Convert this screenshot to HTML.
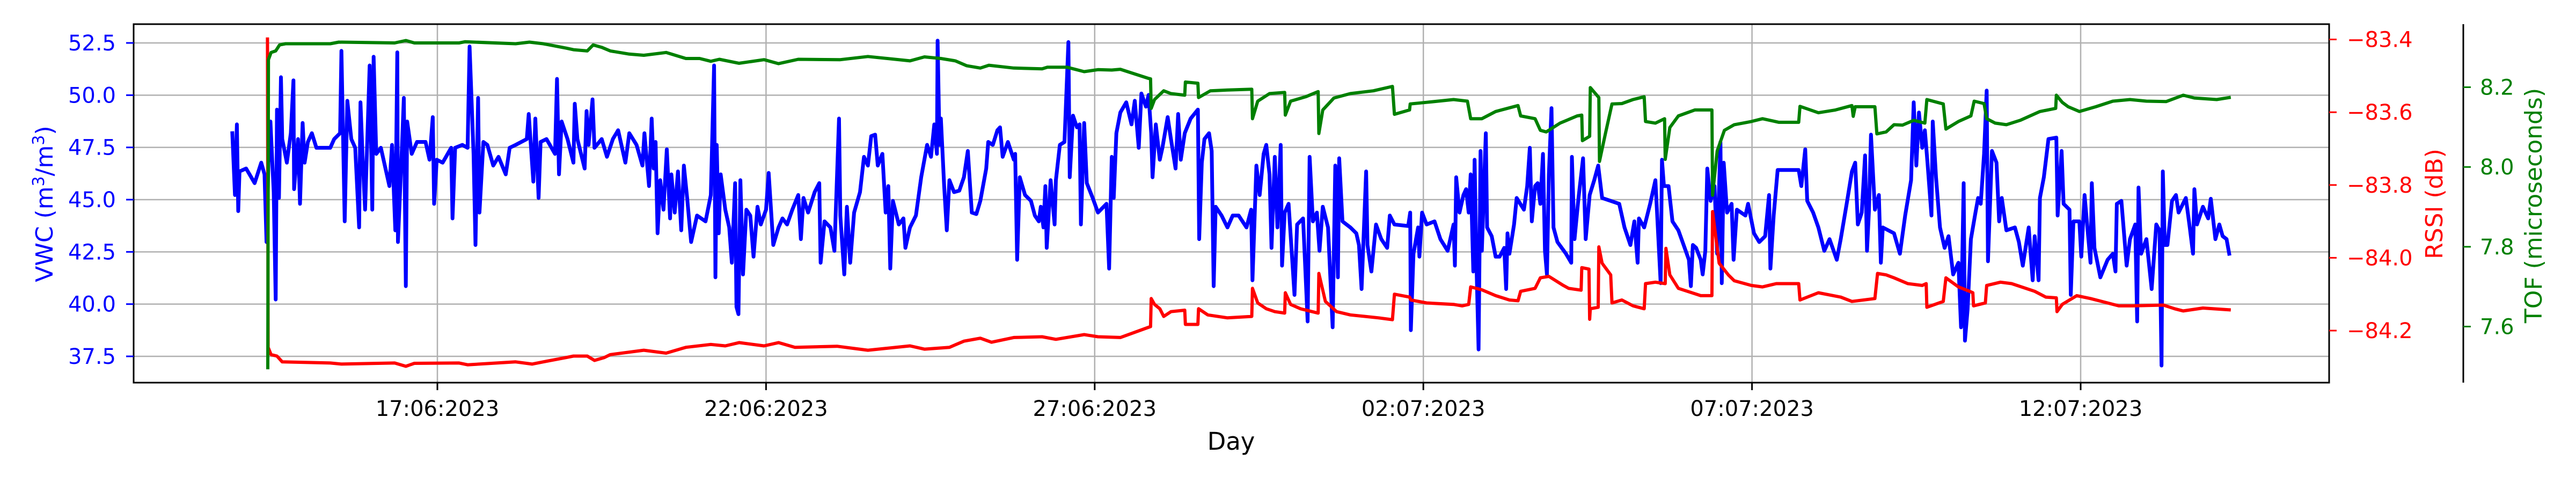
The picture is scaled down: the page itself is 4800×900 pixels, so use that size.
<!DOCTYPE html>
<html><head><meta charset="utf-8"><style>
html,body{margin:0;padding:0;background:#fff;}
svg{display:block;font-family:"DejaVu Sans","Liberation Sans",sans-serif;}
</style></head><body>
<svg id="chart" width="4800" height="900" viewBox="0 0 4800 900" xmlns="http://www.w3.org/2000/svg">
<rect x="0" y="0" width="4800" height="900" fill="#fff"/>
<g id="grid"></g>
<g id="series"></g>
<rect x="249" y="45" width="4091" height="668" fill="none" stroke="#000" stroke-width="3"/>
<line x1="4590" y1="45" x2="4590" y2="713" stroke="#000" stroke-width="3"/>
<g id="axes"></g>
<text x="2294" y="838" font-size="45" text-anchor="middle" fill="#000">Day</text>
<text transform="translate(98,380) rotate(-90)" font-size="44" text-anchor="middle" fill="#0000ff">VWC (m<tspan font-size="30" dy="-16">3</tspan><tspan dy="16">/m</tspan><tspan font-size="30" dy="-16">3</tspan><tspan dy="16">)</tspan></text>
<text transform="translate(4551,380) rotate(-90)" font-size="44" text-anchor="middle" fill="#ff0000">RSSI (dB)</text>
<text transform="translate(4736,383) rotate(-90)" font-size="44" text-anchor="middle" fill="#008000">TOF (microseconds)</text>
</svg>
<script>
// x ticks (days from 17 Jun 2023)
const xTickDays = [0,5,10,15,20,25];
const xTickLabels = ["17:06:2023","22:06:2023","27:06:2023","02:07:2023","07:07:2023","12:07:2023"];
const vwcTicks = [37.5,40.0,42.5,45.0,47.5,50.0,52.5];
const rssiTicks = [-84.2,-84.0,-83.8,-83.6,-83.4];
const tofTicks = [7.6,7.8,8.0,8.2];

const vwcDays = [-3.12,-3.08,-3.05,-3.03,-3.01,-2.91,-2.78,-2.68,-2.63,-2.60,-2.57,-2.54,-2.49,-2.46,-2.44,-2.41,-2.38,-2.36,-2.29,-2.23,-2.19,-2.18,-2.12,-2.09,-2.05,-2.02,-1.97,-1.91,-1.84,-1.63,-1.57,-1.48,-1.46,-1.41,-1.37,-1.31,-1.25,-1.19,-1.17,-1.14,-1.10,-1.03,-0.99,-0.97,-0.93,-0.86,-0.73,-0.69,-0.64,-0.61,-0.60,-0.54,-0.51,-0.48,-0.46,-0.39,-0.31,-0.18,-0.12,-0.07,-0.05,-0.01,0.08,0.21,0.23,0.27,0.38,0.46,0.49,0.55,0.58,0.62,0.64,0.70,0.76,0.85,0.93,1.04,1.10,1.19,1.36,1.39,1.46,1.49,1.54,1.57,1.66,1.79,1.82,1.85,1.89,1.98,2.07,
2.09,2.13,2.24,2.27,2.30,2.36,2.39,2.50,2.58,2.67,2.75,2.86,2.92,3.03,3.12,3.15,3.22,3.26,3.29,3.32,3.35,3.39,3.44,3.49,3.54,3.56,3.61,3.66,3.71,3.75,3.80,3.86,3.95,4.08,4.16,4.21,4.23,4.25,4.28,4.31,4.38,4.44,4.48,4.53,4.55,4.58,4.61,4.65,4.70,4.76,4.81,4.87,4.92,5.00,5.04,5.11,5.19,5.25,5.32,5.40,5.49,5.53,5.57,5.64,5.74,5.81,5.83,5.89,5.98,6.04,6.11,6.13,6.19,6.23,6.28,6.34,6.43,6.49,6.55,6.60,6.66,6.70,6.77,6.82,6.86,6.89,6.93,7.02,7.09,7.12,7.19,7.28,7.36,7.45,7.51,7.56,7.60,7.61,7.64,7.66,7.71,7.75,7.79,7.86,7.94,8.01,8.07,8.13,8.20,8.26,8.35,8.38,8.45,8.52,8.56,8.60,8.68,
8.77,8.79,8.82,8.86,8.94,9.03,9.09,9.15,9.18,9.22,9.25,9.27,9.33,9.39,9.41,9.47,9.54,9.60,9.62,9.67,9.73,9.77,9.79,9.84,9.88,9.97,10.05,10.18,10.22,10.26,10.29,10.33,10.39,10.48,10.56,10.61,10.67,10.71,10.78,10.82,10.86,10.88,10.93,10.99,11.03,11.11,11.16,11.23,11.27,11.31,11.37,11.46,11.57,11.59,11.63,11.67,11.74,11.78,11.81,11.84,11.93,12.02,12.10,12.19,12.31,12.38,12.40,12.46,12.51,12.57,12.61,12.66,12.69,12.74,12.78,12.83,12.85,12.89,12.95,13.04,13.08,13.17,13.24,13.27,13.32,13.38,13.42,13.47,13.55,13.62,13.66,13.70,13.72,13.77,13.89,13.98,14.02,14.06,14.13,14.15,14.21,14.28,14.36,14.45,14.49,14.56,14.77,14.80,14.81,14.85,14.92,14.94,14.98,15.05,15.17,15.26,15.37,
15.46,15.48,15.50,15.55,15.61,15.65,15.69,15.72,15.76,15.78,15.81,15.84,15.87,15.89,15.95,15.97,16.04,16.10,16.16,16.23,16.26,16.28,16.31,16.38,16.42,16.53,16.58,16.62,16.65,16.70,16.74,16.78,16.82,16.85,16.88,16.91,16.95,16.98,17.04,17.17,17.25,17.26,17.30,17.36,17.43,17.47,17.53,17.60,17.66,17.72,17.85,17.98,18.06,18.15,18.21,18.26,18.28,18.36,18.45,18.53,18.61,18.63,18.66,18.73,18.79,18.88,18.96,19.04,19.07,19.10,19.15,19.22,19.25,19.29,19.32,19.37,19.43,19.47,19.52,19.54,19.57,19.62,19.69,19.72,19.77,19.90,19.94,20.03,20.11,20.20,20.26,20.28,20.33,20.39,20.71,20.75,20.81,20.84,20.93,21.01,21.10,21.18,21.29,21.35,21.44,21.52,21.57,21.61,21.67,21.72,21.75,21.78,21.81,21.87,21.93,21.96,21.99,
22.16,22.25,22.33,22.42,22.46,22.50,22.54,22.59,22.63,22.67,22.73,22.75,22.80,22.86,22.93,22.99,23.06,23.14,23.18,23.22,23.24,23.28,23.33,23.40,23.44,23.48,23.53,23.57,23.59,23.65,23.72,23.76,23.80,23.87,24.00,24.06,24.12,24.21,24.27,24.30,24.36,24.38,24.44,24.51,24.63,24.65,24.71,24.74,24.83,24.85,24.89,24.98,25.01,25.06,25.11,25.15,25.17,25.21,25.30,25.41,25.49,25.53,25.55,25.62,25.70,25.75,25.83,25.86,25.88,25.92,26.00,26.08,26.15,26.20,26.23,26.25,26.28,26.32,26.39,26.45,26.49,26.60,26.66,26.71,26.73,26.77,26.86,26.94,26.98,27.05,27.11,27.16,27.22,27.26];
const vwcValues = [48.18,45.22,48.60,44.45,46.35,46.49,45.79,46.77,46.21,42.97,46.77,48.74,45.36,40.22,49.31,45.08,50.86,47.90,46.77,48.18,50.71,45.50,47.90,44.80,48.67,46.77,47.76,48.18,47.48,47.48,47.90,48.18,52.12,43.96,49.73,47.90,47.48,43.67,49.66,47.19,44.52,51.42,44.52,51.84,47.19,47.48,45.65,47.62,43.53,52.05,42.97,47.48,49.87,40.86,48.74,47.19,47.76,47.76,46.91,48.95,44.80,46.91,46.77,47.48,44.10,47.48,47.62,47.48,52.33,47.19,42.83,49.87,44.38,47.76,47.62,46.63,47.05,46.21,47.48,47.62,47.90,49.10,45.86,48.88,45.08,47.76,47.90,47.19,50.78,46.21,48.74,47.90,46.77,
49.59,47.90,46.49,49.24,47.62,49.80,47.48,47.90,47.05,47.90,48.32,46.77,48.18,47.62,46.63,48.18,45.65,48.88,46.49,47.76,43.39,45.93,44.52,47.41,44.10,46.21,44.38,46.35,43.53,46.63,45.08,42.97,44.24,43.96,45.22,51.42,41.28,47.62,43.39,46.21,44.52,43.67,41.98,45.79,39.87,39.52,45.93,41.42,44.52,44.24,42.27,44.66,43.81,44.52,46.28,42.83,43.67,44.10,43.81,44.52,45.22,43.11,45.08,44.38,45.36,45.79,41.98,43.96,43.67,42.55,48.88,44.24,41.42,44.66,41.98,44.38,45.36,47.05,46.63,48.04,48.11,46.63,47.19,44.38,45.65,41.70,44.94,43.81,44.10,42.69,43.67,44.24,46.07,47.62,47.05,48.60,47.19,52.61,47.62,48.88,45.65,43.53,45.93,45.36,45.43,46.07,47.33,44.38,44.31,44.94,46.49,47.76,47.62,48.32,48.46,47.05,47.76,
46.91,47.19,42.12,46.07,45.22,44.94,44.24,43.96,44.66,43.67,45.65,42.69,45.93,43.81,45.93,47.62,47.76,52.54,46.07,49.02,48.46,48.60,43.81,48.67,45.79,45.08,44.38,44.80,41.70,47.05,45.08,48.18,49.17,49.66,48.60,49.73,47.48,50.08,49.45,50.01,48.18,46.07,48.60,46.91,47.48,48.95,47.90,46.49,49.10,46.91,48.18,48.88,49.31,43.11,46.77,47.90,48.18,47.33,40.86,44.66,44.24,43.67,44.24,44.24,43.67,44.52,41.14,46.63,45.22,47.19,47.62,46.21,42.69,47.05,43.67,47.62,41.84,44.38,44.80,40.44,43.81,44.10,39.17,47.05,43.96,44.38,42.55,44.66,43.67,38.89,46.63,41.28,46.98,43.96,43.67,43.39,42.83,40.72,46.35,42.83,41.56,43.81,43.11,42.69,44.24,43.81,43.74,44.38,38.75,42.41,43.67,42.27,44.38,43.81,43.96,43.11,42.55,
43.81,41.84,46.07,44.38,45.22,45.50,44.38,46.21,41.56,46.91,41.70,37.83,47.33,42.55,48.18,43.67,43.25,42.27,42.27,42.69,40.72,43.39,42.41,43.81,45.08,44.52,45.65,47.48,43.96,45.65,45.79,44.80,47.19,42.55,41.42,46.21,49.38,43.67,42.97,42.41,41.98,47.05,43.11,45.08,46.98,43.11,45.22,45.93,46.63,45.08,44.94,44.80,43.67,42.83,43.96,41.98,44.10,43.67,44.80,45.93,41.00,46.91,45.65,45.65,43.96,43.53,42.83,42.12,40.86,42.83,42.69,42.12,41.42,42.55,46.49,44.94,45.65,42.41,47.76,41.00,46.77,44.38,44.80,42.12,44.52,44.24,44.80,43.39,42.97,43.25,45.22,41.70,44.24,46.42,46.42,45.65,47.41,44.94,44.38,43.67,42.55,43.11,42.12,43.11,44.80,46.35,46.77,43.81,44.38,47.12,42.55,44.52,48.11,44.52,45.22,41.98,43.67,
43.39,42.41,44.24,45.93,49.66,46.63,49.17,47.48,48.32,46.77,44.24,48.74,46.07,43.67,42.69,43.25,41.42,41.98,38.89,45.79,38.25,39.73,43.11,44.38,45.08,44.80,47.19,50.22,42.05,47.33,46.77,43.96,45.08,43.53,43.67,42.97,41.84,43.67,41.14,43.25,41.14,45.08,46.07,47.90,47.97,44.24,47.33,44.80,44.52,40.44,43.96,43.96,42.27,45.22,43.39,41.98,45.79,42.69,41.28,42.12,42.41,41.56,44.80,44.94,41.84,43.11,43.81,39.17,45.58,42.41,43.11,40.72,43.81,43.53,37.06,46.35,42.83,42.83,44.94,45.22,44.38,45.08,43.67,42.41,45.50,43.81,44.66,44.10,45.04,43.11,43.81,43.25,43.11,42.41];

const rssiDays = [-2.585,-2.575,-2.53,-2.44,-2.36,-1.63,-1.46,-0.65,-0.48,-0.35,0.33,0.46,1.19,1.44,1.61,1.96,2.07,2.28,2.39,2.54,2.63,3.14,3.48,3.78,4.16,4.38,4.59,4.97,5.19,5.44,6.08,6.55,7.19,7.41,7.79,8.01,8.26,8.43,8.77,9.20,9.41,9.84,10.05,10.39,10.85,10.86,10.91,10.99,11.05,11.16,11.37,11.38,11.57,11.58,11.72,12.02,12.39,12.40,12.48,12.61,12.74,12.89,12.90,12.98,13.13,13.40,13.41,13.51,13.68,13.89,14.32,14.53,14.56,14.79,14.81,15.05,15.46,15.59,15.69,15.72,15.89,16.10,16.31,16.44,16.48,16.70,16.78,16.91,17.13,17.21,17.40,17.41,17.52,17.53,17.54,17.66,17.67,17.72,17.85,17.87,18.02,18.19,18.36,18.38,18.53,18.68,18.69,18.75,18.88,19.22,19.39,19.40,19.50,19.64,19.73,19.99,20.16,20.37,20.71,20.73,21.01,21.35,21.52,21.87,21.91,22.04,22.16,22.37,22.59,22.65,22.66,22.91,22.95,23.14,23.31,23.36,23.37,23.55,23.57,23.78,23.95,24.30,24.47,24.63,24.64,24.72,24.94,25.15,25.41,25.58,25.79,26.26,26.43,26.56,26.86,27.26];
const rssiValues = [-83.399,-84.246,-84.266,-84.270,-84.286,-84.289,-84.292,-84.289,-84.298,-84.290,-84.289,-84.294,-84.286,-84.292,-84.286,-84.274,-84.270,-84.270,-84.282,-84.274,-84.266,-84.254,-84.262,-84.246,-84.238,-84.242,-84.233,-84.242,-84.233,-84.246,-84.243,-84.254,-84.242,-84.251,-84.246,-84.229,-84.221,-84.232,-84.219,-84.217,-84.224,-84.211,-84.217,-84.219,-84.189,-84.112,-84.128,-84.140,-84.161,-84.148,-84.144,-84.183,-84.183,-84.140,-84.157,-84.165,-84.161,-84.084,-84.124,-84.140,-84.148,-84.152,-84.096,-84.128,-84.140,-84.152,-84.043,-84.120,-84.148,-84.157,-84.165,-84.170,-84.100,-84.108,-84.116,-84.124,-84.128,-84.132,-84.128,-84.080,-84.088,-84.104,-84.116,-84.118,-84.092,-84.084,-84.055,-84.051,-84.076,-84.084,-84.089,-84.027,-84.031,-84.169,-84.140,-84.136,-83.970,-84.015,-84.047,-84.124,-84.116,-84.132,-84.140,-84.071,-84.067,-84.071,-83.974,-84.047,-84.084,-84.104,-84.104,-83.873,-84.015,-84.047,-84.063,-84.076,-84.080,-84.071,-84.071,-84.116,-84.096,-84.108,-84.120,-84.112,-84.043,-84.047,-84.055,-84.071,-84.076,-84.071,-84.136,-84.120,-84.055,-84.080,-84.092,-84.096,-84.132,-84.124,-84.076,-84.067,-84.071,-84.092,-84.108,-84.110,-84.148,-84.128,-84.104,-84.112,-84.124,-84.132,-84.132,-84.130,-84.140,-84.146,-84.138,-84.143];

const tofDays = [-2.58,-2.57,-2.53,-2.46,-2.40,-2.31,-1.63,-1.50,-0.65,-0.48,-0.35,0.33,0.42,1.19,1.40,1.61,1.96,2.07,2.28,2.37,2.50,2.63,2.92,3.14,3.48,3.78,3.99,4.16,4.29,4.59,4.97,5.19,5.49,6.13,6.55,7.19,7.41,7.66,7.88,8.05,8.26,8.39,8.77,9.20,9.28,9.58,9.84,10.05,10.26,10.39,10.82,10.85,10.86,10.91,11.05,11.16,11.37,11.38,11.57,11.58,11.76,12.02,12.39,12.40,12.48,12.66,12.89,12.90,12.98,13.21,13.40,13.41,13.47,13.64,13.89,14.24,14.53,14.56,14.79,14.80,15.05,15.46,15.67,15.72,15.89,16.10,16.44,16.48,16.70,16.78,16.87,17.08,17.34,17.41,17.42,17.53,17.54,17.67,17.68,17.77,17.87,18.02,18.19,18.36,18.38,18.53,18.67,18.68,18.75,18.88,19.13,19.39,19.40,19.47,19.58,19.73,19.99,20.16,20.41,20.71,20.73,21.01,21.27,21.52,21.54,21.57,21.87,21.90,22.04,22.16,22.29,22.46,22.63,22.66,22.91,22.95,23.14,23.33,23.38,23.53,23.57,23.70,23.87,24.08,24.38,24.62,24.63,24.72,24.81,24.98,25.23,25.49,25.75,26.00,26.30,26.56,26.73,27.07,27.26];
const tofValues = [7.497,8.269,8.287,8.291,8.306,8.309,8.309,8.313,8.311,8.317,8.311,8.311,8.314,8.309,8.313,8.309,8.298,8.294,8.291,8.306,8.300,8.291,8.283,8.280,8.287,8.272,8.272,8.265,8.270,8.260,8.269,8.259,8.270,8.269,8.277,8.266,8.276,8.272,8.266,8.254,8.248,8.255,8.248,8.246,8.250,8.250,8.239,8.244,8.243,8.245,8.222,8.221,8.147,8.169,8.191,8.184,8.180,8.213,8.210,8.174,8.191,8.193,8.195,8.121,8.165,8.184,8.187,8.130,8.165,8.176,8.189,8.084,8.143,8.173,8.184,8.191,8.202,8.132,8.143,8.158,8.162,8.169,8.165,8.121,8.121,8.139,8.154,8.128,8.121,8.092,8.088,8.110,8.128,8.130,8.066,8.077,8.199,8.174,8.014,8.084,8.158,8.159,8.169,8.176,8.114,8.110,8.121,8.019,8.099,8.128,8.143,8.143,7.929,8.040,8.092,8.106,8.114,8.121,8.112,8.112,8.152,8.136,8.143,8.154,8.127,8.151,8.151,8.083,8.088,8.106,8.105,8.117,8.110,8.169,8.158,8.095,8.114,8.128,8.165,8.159,8.121,8.110,8.106,8.117,8.139,8.147,8.180,8.162,8.151,8.139,8.151,8.165,8.169,8.165,8.164,8.180,8.173,8.169,8.174];

const NS = "http://www.w3.org/2000/svg";
const X0 = 815, DAYPX = (3877 - 815) / 25;
function xScale(d){ return X0 + d * DAYPX; }
function yVwc(v){ return 664 - (v - 37.5) * (584 / 15); }
function yRssi(r){ return 73.5 + (-83.4 - r) * (542.5 / 0.8); }
function yTof(t){ return 162.5 + (8.2 - t) * (446 / 0.6); }

function mk(tag, attrs, parent){
  const el = document.createElementNS(NS, tag);
  for (const k in attrs) el.setAttribute(k, attrs[k]);
  parent.appendChild(el);
  return el;
}
const grid = document.getElementById('grid');
const axes = document.getElementById('axes');
const series = document.getElementById('series');

xTickDays.forEach((d, i) => {
  const x = xScale(d);
  const g = mk('line', {x1:x, y1:45, x2:x, y2:713, stroke:'#b0b0b0', 'stroke-width':2.5}, grid);
  
  
  const t = mk('line', {x1:x, y1:713, x2:x, y2:727, stroke:'#000', 'stroke-width':3}, axes);
  
  
  const lb = mk('text', {x:x, y:775, 'font-size':40, 'text-anchor':'middle', fill:'#000'}, axes);
  lb.textContent = xTickLabels[i];
  
  
});
vwcTicks.forEach(v => {
  const y = yVwc(v);
  const g = mk('line', {x1:249, y1:y, x2:4340, y2:y, stroke:'#b0b0b0', 'stroke-width':2.5}, grid);
  
  
  const t = mk('line', {x1:235, y1:y, x2:249, y2:y, stroke:'#0000ff', 'stroke-width':3}, axes);
  
  
  const lb = mk('text', {x:216, y:y + 14, 'font-size':40, 'text-anchor':'end', fill:'#0000ff'}, axes);
  lb.textContent = v.toFixed(1);
  
  
});
rssiTicks.forEach(r => {
  const y = yRssi(r);
  const t = mk('line', {x1:4340, y1:y, x2:4354, y2:y, stroke:'#ff0000', 'stroke-width':3}, axes);
  
  
  const lb = mk('text', {x:4373, y:y + 14, 'font-size':40, fill:'#ff0000'}, axes);
  lb.textContent = '\u2212' + Math.abs(r).toFixed(1);
  
  
});
tofTicks.forEach(v => {
  const y = yTof(v);
  const t = mk('line', {x1:4590, y1:y, x2:4604, y2:y, stroke:'#008000', 'stroke-width':3}, axes);
  
  
  const lb = mk('text', {x:4621, y:y + 14, 'font-size':40, fill:'#008000'}, axes);
  lb.textContent = v.toFixed(1);
  
  
});

function drawLine(days, vals, yf, color, name, w){
  const pts = days.map((d, i) => xScale(d).toFixed(1) + ',' + yf(vals[i]).toFixed(1)).join(' ');
  const pl = mk('polyline', {points:pts, fill:'none', stroke:color, 'stroke-width':w, 'stroke-linejoin':'round', 'stroke-linecap':'square'}, series);
  
  
}
drawLine(vwcDays, vwcValues, yVwc, '#0000ff', 'vwc-line', 7);
drawLine(rssiDays, rssiValues, yRssi, '#ff0000', 'rssi-line', 6);
drawLine(tofDays, tofValues, yTof, '#008000', 'tof-line', 6);
</script>
</body></html>
